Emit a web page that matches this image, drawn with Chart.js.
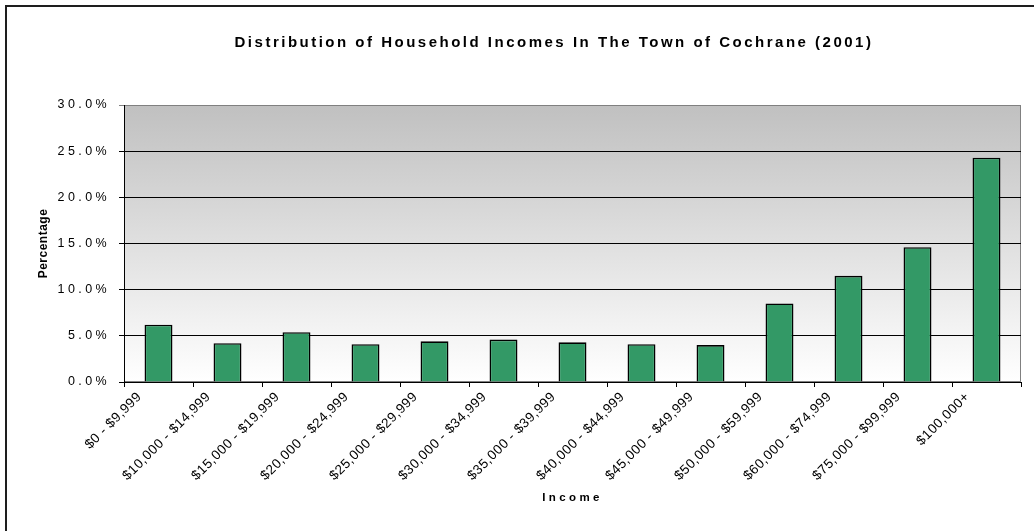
<!DOCTYPE html>
<html>
<head>
<meta charset="utf-8">
<title>Distribution of Household Incomes In The Town of Cochrane (2001)</title>
<script src="https://cdn.jsdelivr.net/npm/chart.js@4/dist/chart.umd.min.js"></script>
<style>
  html, body { margin: 0; padding: 0; background: #ffffff; }
  canvas { display: block; }
</style>
</head>
<body>
<canvas id="incomeChart" width="1034" height="531"></canvas>
<script>
// Income bands (x categories)
const incomeBands = [
  '$0 - $9,999', '$10,000 - $14,999', '$15,000 - $19,999', '$20,000 - $24,999',
  '$25,000 - $29,999', '$30,000 - $34,999', '$35,000 - $39,999', '$40,000 - $44,999',
  '$45,000 - $49,999', '$50,000 - $59,999', '$60,000 - $74,999', '$75,000 - $99,999',
  '$100,000+'
];

// Share of households in each band, in percent
const householdShare = [6.2, 4.2, 5.4, 4.1, 4.4, 4.6, 4.3, 4.1, 4.0, 8.5, 11.5, 14.6, 24.3];

// Percentage axis ticks
const percentTicks = [0, 5, 10, 15, 20, 25, 30];

const chartTitle = 'Distribution of Household Incomes In The Town of Cochrane (2001)';
const xAxisTitle = 'Income';
const yAxisTitle = 'Percentage';

const FONT = "'Liberation Sans', Arial, Helvetica, sans-serif";

// Run a drawing method with a given canvas letter spacing
function withSpacing(fn, spacing) {
  return function (...args) {
    const ctx = this.ctx;
    const prev = ctx.letterSpacing;
    ctx.letterSpacing = spacing;
    try { return fn.apply(this, args); }
    finally { ctx.letterSpacing = prev; }
  };
}

// Frame, shaded plot area and text spacing
const framePlugin = {
  id: 'frame',
  afterLayout(chart) {
    const t = chart.titleBlock;
    if (t) { t.left = 74; t.right = chart.width; }
    if (!chart.$spaced) {
      chart.$spaced = true;
      if (t) t.draw = withSpacing(t.draw, '2.5px');
      const x = chart.scales.x, y = chart.scales.y;
      x.drawLabels = withSpacing(x.drawLabels, '0.5px');
      x.drawTitle = withSpacing(x.drawTitle, '3.4px');
      y.drawLabels = withSpacing(y.drawLabels, '3.4px');
      y.drawTitle = withSpacing(y.drawTitle, '0.5px');
    }
  },
  beforeDraw(chart) {
    const { ctx, chartArea: a, width, height } = chart;
    ctx.save();
    ctx.fillStyle = '#ffffff';
    ctx.fillRect(0, 0, width, height);
    // outer chart border (top and left edges fall inside the canvas)
    ctx.fillStyle = '#1e1e1e';
    ctx.fillRect(5, 5, width, 2);
    ctx.fillRect(5, 5, 2, height);
    // plot area shading
    const g = ctx.createLinearGradient(0, a.top, 0, a.bottom);
    g.addColorStop(0, '#c0c0c0');
    g.addColorStop(1, '#ffffff');
    ctx.fillStyle = g;
    ctx.fillRect(a.left, a.top, a.right - a.left, a.bottom - a.top);
    ctx.strokeStyle = '#808080';
    ctx.lineWidth = 1;
    ctx.strokeRect(a.left + 0.5, a.top + 0.5, a.right - a.left - 1, a.bottom - a.top - 1);
    ctx.restore();
  }
};

new Chart(document.getElementById('incomeChart'), {
  type: 'bar',
  data: {
    labels: incomeBands,
    datasets: [{
      label: 'Households',
      data: householdShare,
      backgroundColor: '#339966',
      borderColor: '#000000',
      borderWidth: 1.6,
      categoryPercentage: 1,
      barPercentage: 0.405
    }]
  },
  options: {
    responsive: false,
    animation: false,
    devicePixelRatio: 1,
    layout: { padding: { left: 32, right: 13, top: 0, bottom: 0 } },
    plugins: {
      legend: { display: false },
      tooltip: { enabled: false },
      title: {
        display: true,
        text: chartTitle,
        color: '#000000',
        font: { family: FONT, size: 15, weight: 'bold' },
        padding: { top: 34, bottom: 53 }
      }
    },
    scales: {
      x: {
        afterFit(scale) { scale.height = 149; },
        grid: {
          display: true,
          offset: true,
          drawOnChartArea: false,
          drawTicks: true,
          tickLength: 5,
          color: '#000000'
        },
        border: { display: true, color: '#000000', width: 1 },
        ticks: {
          color: '#000000',
          font: { family: FONT, size: 13.5 },
          minRotation: 45,
          maxRotation: 45,
          autoSkip: false,
          labelOffset: -19,
          padding: 2
        },
        title: {
          display: true,
          text: xAxisTitle,
          color: '#000000',
          font: { family: FONT, size: 11.5, weight: 'bold' },
          padding: { top: 4, bottom: 26 }
        }
      },
      y: {
        min: 0,
        max: 30,
        afterFit(scale) { scale.width = 92; },
        afterBuildTicks(scale) { scale.ticks = percentTicks.map(v => ({ value: v })); },
        grid: {
          color: ctx => (ctx.tick && ctx.tick.value === 30 ? '#808080' : '#000000'),
          lineWidth: 1,
          tickLength: 5,
          drawTicks: true
        },
        border: { display: true, color: '#000000', width: 1 },
        ticks: {
          color: '#000000',
          font: { family: FONT, size: 12.5 },
          padding: 9,
          callback: v => v.toFixed(1) + '%'
        },
        title: {
          display: true,
          text: yAxisTitle,
          color: '#000000',
          font: { family: FONT, size: 12, weight: 'bold' },
          padding: { top: 4, bottom: 4 }
        }
      }
    }
  },
  plugins: [framePlugin]
});
</script>
</body>
</html>
